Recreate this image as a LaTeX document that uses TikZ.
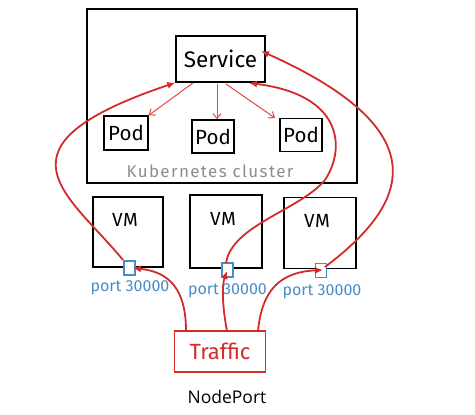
\documentclass[tikz,border=0pt]{standalone}
\usepackage{fontspec}
\setmainfont{Fira Sans}
\newfontfamily\capfont{Open Sans}
\usetikzlibrary{arrows.meta}
\definecolor{kred}{HTML}{D42A2A}
\definecolor{kpred}{HTML}{E04848}
\definecolor{kblue}{HTML}{4A8CC8}
\definecolor{kgray}{HTML}{8E8E8E}
\begin{document}
\begin{tikzpicture}[x=1pt,y=-1pt,
  box/.style={draw=black,line width=1.4pt,inner sep=0pt,fill=white},
  portbox/.style={draw=kblue,line width=1.3pt,fill=white,inner sep=0pt,minimum width=11pt,minimum height=14pt},
  portlbl/.style={text=kblue,font=\fontsize{16}{16}\selectfont},
  flow/.style={draw=kred,line width=1.8pt,-{Latex[length=8pt,width=7pt]}},
  podflow/.style={draw=kpred,line width=1pt,-{Straight Barb[length=5pt,width=8pt]}},
  vmlbl/.style={font=\fontsize{19}{19}\selectfont\addfontfeatures{LetterSpace=4}},
  podlbl/.style={font=\fontsize{20.5}{20.5}\selectfont}]
\useasboundingbox[fill=white] (0,0) rectangle (475,415);
% cluster
\node[box,minimum width=270pt,minimum height=174pt] (cluster) at (222,96) {};
\node[text=kgray,font=\fontsize{17}{17}\selectfont\addfontfeatures{LetterSpace=8}] (clbl) at (210,171) {Kubernetes cluster};
% service and pods
\node[box,minimum width=89pt,minimum height=46pt,font=\fontsize{22.5}{22.5}\selectfont] (svc) at (220.5,59) {Service};
\node[box,minimum width=44pt,minimum height=34pt,podlbl] (pod1) at (126,133) {Pod};
\node[box,minimum width=42pt,minimum height=33pt,podlbl] (pod2) at (213,136.5) {Pod};
\node[box,minimum width=42pt,minimum height=33pt,podlbl] (pod3) at (301,135) {Pod};
% VMs
\node[box,minimum width=70pt,minimum height=70pt] (vm1) at (128,232) {};
\node[box,minimum width=72pt,minimum height=73pt] (vm2) at (226,231.5) {};
\node[box,minimum width=72pt,minimum height=71pt] (vm3) at (320,233) {};
\node[vmlbl] (vm1l) at (125,220) {VM};
\node[vmlbl] (vm2l) at (223,219) {VM};
\node[vmlbl] (vm3l) at (317,221) {VM};
% ports
\node[portbox] (p1) at (129.5,268) {};
\node[portbox] (p2) at (227.5,270) {};
\node[portbox] (p3) at (321,270.5) {};
\node[portlbl] (p1l) at (130,288) {port 30000};
\node[portlbl] (p2l) at (227.5,291) {port 30000};
\node[portlbl] (p3l) at (322,292) {port 30000};
% traffic
\node[draw=kred,line width=1.4pt,fill=white,inner sep=0pt,minimum width=91pt,minimum height=41pt,text=kred,font=\fontsize{22}{22}\selectfont] (traffic) at (220,351.5) {Traffic};
\node[font=\capfont\fontsize{17.5}{17.5}\selectfont] (title) at (227,397) {NodePort};
% service to pods
\draw[podflow] (193,83) -- (pod1.north east);
\draw[podflow] (217,84) -- (pod2.north -| 217,0);
\draw[podflow] (226,84) -- (275,118);
% ports to service
\draw[flow] (123,260) .. controls (69,194) and (-16,147) .. (svc.south west);
\coordinate (mid2) at (325,180);
\draw[draw=kred,line width=1.8pt] (226,263) .. controls (232,225) and (300,210) .. (mid2);
\draw[flow] (mid2) .. controls (345,150) and (345,95) .. (249,83);
\draw[flow] (325,267) .. controls (399,211) and (451,136) .. (261,51);
% traffic to ports
\draw[flow] (186,331) .. controls (186,290) and (170,272) .. (133,268);
\draw[flow] (227,331) .. controls (222,305) and (222,285) .. (227,271);
\draw[flow] (258,331) .. controls (262,290) and (280,272) .. (323,270);
\end{tikzpicture}
\end{document}
